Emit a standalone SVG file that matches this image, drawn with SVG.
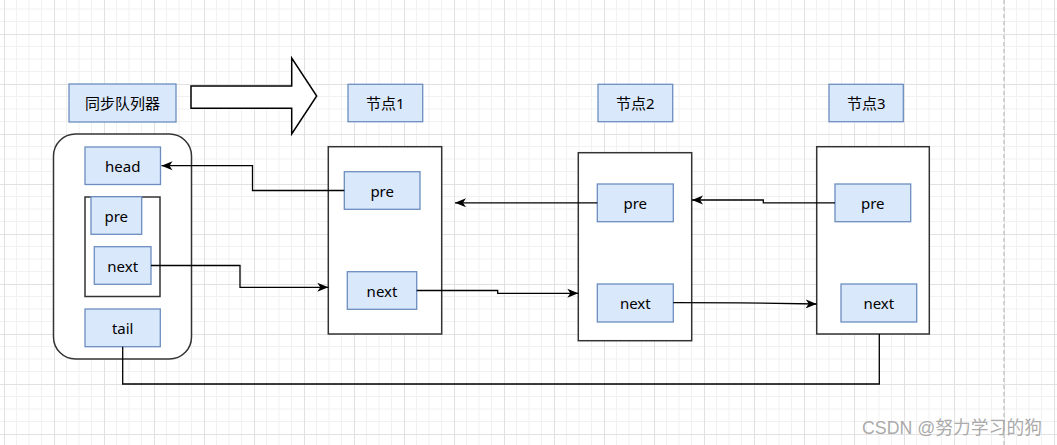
<svg xmlns="http://www.w3.org/2000/svg" width="1057" height="445" viewBox="0 0 1057 445">
<defs>
<pattern id="grid" patternUnits="userSpaceOnUse" x="4" y="34" width="50" height="50">
<path d="M12.5,0V50M25,0V50M37.5,0V50M0,12.5H50M0,25H50M0,37.5H50" stroke="#f1f1f1" stroke-width="1" fill="none"/>
<path d="M0.5,0V50M0,0.5H50" stroke="#e1e1e1" stroke-width="1" fill="none"/>
</pattern>
<marker id="arr" markerUnits="userSpaceOnUse" markerWidth="12" markerHeight="10" viewBox="0 0 12 10" refX="11" refY="5" orient="auto">
<path d="M0,0.5 L11,5 L0,9.5 L3,5 Z" fill="#000"/>
</marker>
<style>
.f{fill:#dae8fc;stroke:#6c8ebf;stroke-width:1.3}
.c{fill:#fff;stroke:#333;stroke-width:1.5}
.t{font-family:"Noto Sans","Noto Sans CJK SC",sans-serif;font-size:15px;fill:#000;text-anchor:middle;dominant-baseline:central}
.e{fill:none;stroke:#000;stroke-width:1.3}
</style>
</defs>
<rect width="1057" height="445" fill="#fff"/>
<rect width="1057" height="445" fill="url(#grid)"/>
<line x1="1004" y1="0" x2="1004" y2="445" stroke="#c8c8c8" stroke-width="1.5" stroke-dasharray="4,3"/>

<g id="queue-label"><rect class="f" x="69" y="84" width="107" height="38"/><text class="t" x="122.5" y="103">同步队列器</text></g>
<g id="big-arrow"><path d="M191,86 H291.7 V58 L316.7,96 L291.7,134 V108.3 H191 Z" fill="#fff" stroke="#000" stroke-width="1.5"/></g>

<g id="queue">
<rect class="c" x="53.5" y="134" width="138" height="225" rx="22"/>
<g id="q-head"><rect class="f" x="85" y="147" width="75.5" height="37.5"/><text class="t" x="122.7" y="165.7">head</text></g>
<g id="q-inner"><rect class="c" x="85" y="197" width="75" height="99.5"/>
<g id="q-pre"><rect class="f" x="91" y="196.7" width="50.7" height="37.6"/><text class="t" x="116.3" y="215.5">pre</text></g>
<g id="q-next"><rect class="f" x="94.3" y="246.7" width="56.7" height="37.6"/><text class="t" x="122.7" y="265.5">next</text></g>
</g>
<g id="q-tail"><rect class="f" x="85" y="309" width="75.3" height="37.7"/><text class="t" x="122.7" y="327.8">tail</text></g>
</g>

<g id="n1-label"><rect class="f" x="348" y="84.3" width="74.7" height="37.4"/><text class="t" x="385.3" y="103">节点1</text></g>
<g id="n2-label"><rect class="f" x="598" y="84.3" width="74.7" height="37.4"/><text class="t" x="635.3" y="103">节点2</text></g>
<g id="n3-label"><rect class="f" x="829" y="84.3" width="74.3" height="37.4"/><text class="t" x="866.2" y="103">节点3</text></g>

<g id="node1"><rect class="c" x="328.3" y="146.7" width="113.4" height="187.3"/>
<g id="n1-pre"><rect class="f" x="344.3" y="171.7" width="75.7" height="37.6"/><text class="t" x="382.2" y="190.5">pre</text></g>
<g id="n1-next"><rect class="f" x="347.3" y="271.7" width="69.4" height="37.6"/><text class="t" x="382" y="290.5">next</text></g>
</g>
<g id="node2"><rect class="c" x="578.3" y="152.7" width="113.4" height="188"/>
<g id="n2-pre"><rect class="f" x="597.3" y="184" width="76" height="37.7"/><text class="t" x="635.3" y="202.8">pre</text></g>
<g id="n2-next"><rect class="f" x="597.3" y="284" width="76" height="38"/><text class="t" x="635.3" y="303">next</text></g>
</g>
<g id="node3"><rect class="c" x="816.7" y="146.7" width="112.6" height="187.3"/>
<g id="n3-pre"><rect class="f" x="835" y="184" width="75.7" height="37.7"/><text class="t" x="872.8" y="202.8">pre</text></g>
<g id="n3-next"><rect class="f" x="841" y="284" width="75.7" height="38"/><text class="t" x="878.8" y="303">next</text></g>
</g>

<g id="connectors">
<path class="e" d="M344.3,190.5 H252.5 V165.7 H161.5" marker-end="url(#arr)"/>
<path class="e" d="M151,265.5 H240 V287.3 H328.3" marker-end="url(#arr)"/>
<path class="e" d="M597.3,202.8 H455" marker-end="url(#arr)"/>
<path class="e" d="M416.7,290.5 H497.7 V293.3 H578.3" marker-end="url(#arr)"/>
<path class="e" d="M835,202.8 H763.3 V200 H692" marker-end="url(#arr)"/>
<path class="e" d="M673.3,302.7 L740,302.8 L816.7,304" marker-end="url(#arr)"/>
<path class="e" d="M122.7,346.7 V384 H879.3 V334"/>
</g>

<text x="1042" y="434" font-family="'Liberation Sans','Noto Sans CJK SC',sans-serif" font-size="17.8" fill="#a0a0a0" fill-opacity="0.9" text-anchor="end">CSDN @努力学习的狗</text>
</svg>
